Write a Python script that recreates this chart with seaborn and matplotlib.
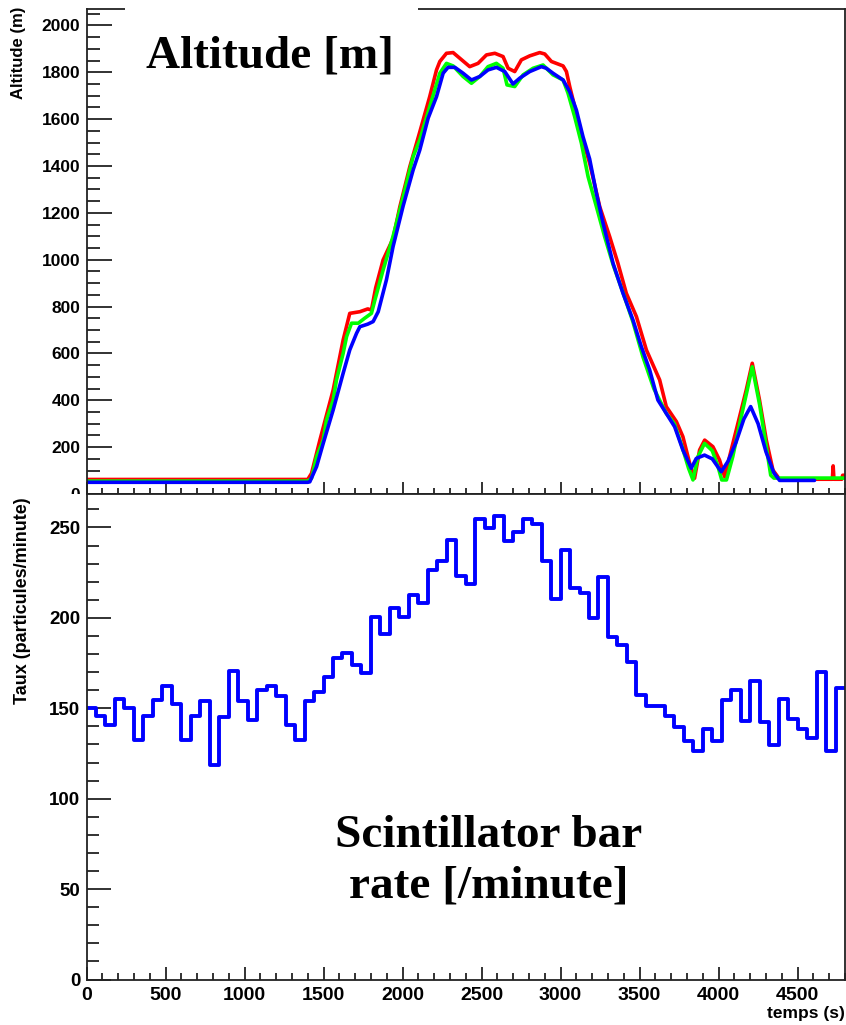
import numpy as np
import pandas as pd
import matplotlib
matplotlib.use("Agg")
import matplotlib.pyplot as plt
from matplotlib.ticker import MultipleLocator
from matplotlib.patches import Rectangle
import seaborn as sns

# ---------------- data ----------------
# Altitude tracks (time in s, altitude in m)
red_t = [0, 1400, 1424, 1477, 1561, 1624, 1666, 1730, 1780, 1803, 1830, 1877, 1940, 1983, 2046,
         2109, 2172, 2215, 2236, 2278, 2320, 2362, 2425, 2478, 2531, 2584, 2636, 2668, 2710, 2752,
         2805, 2868, 2900, 2942, 3016, 3037, 3058, 3100, 3142, 3184, 3248, 3311, 3363, 3416, 3480,
         3543, 3627, 3669, 3733, 3774, 3817, 3848, 3880, 3912, 3964, 4006, 4038, 4080, 4133, 4175,
         4213, 4259, 4302, 4344, 4386, 4720, 4725, 4730, 4780, 4785, 4800]
red_alt = [62, 62, 88, 230, 444, 657, 771, 778, 790, 785, 880, 999, 1090, 1226, 1397,
           1545, 1696, 1810, 1846, 1881, 1884, 1860, 1824, 1838, 1874, 1881, 1867, 1817, 1803, 1853,
           1870, 1884, 1878, 1846, 1827, 1803, 1739, 1625, 1511, 1412, 1226, 1098, 985, 857, 757,
           615, 487, 373, 309, 245, 131, 67, 188, 230, 202, 145, 74, 188, 330, 444,
           558, 401, 230, 102, 63, 63, 120, 63, 63, 80, 80]

green_t = [0, 1400, 1424, 1456, 1498, 1519, 1561, 1582, 1624, 1646, 1677, 1720, 1760, 1803, 1825,
           1877, 1940, 2004, 2067, 2109, 2172, 2236, 2278, 2320, 2383, 2436, 2489, 2541, 2594, 2636,
           2661, 2710, 2763, 2826, 2889, 2952, 3016, 3047, 3089, 3132, 3174, 3227, 3279, 3332, 3400,
           3458, 3521, 3590, 3669, 3720, 3770, 3810, 3838, 3870, 3911, 3960, 3995, 4020, 4050, 4090,
           4140, 4180, 4213, 4260, 4300, 4330, 4350, 4800]
green_alt = [55, 55, 67, 159, 230, 316, 401, 487, 600, 672, 729, 729, 750, 771, 828,
             956, 1100, 1269, 1440, 1511, 1653, 1796, 1838, 1827, 1782, 1753, 1782, 1824, 1838, 1817,
             1746, 1739, 1789, 1817, 1831, 1789, 1767, 1711, 1611, 1497, 1355, 1226, 1098, 980, 850,
             735, 586, 450, 344, 300, 200, 110, 60, 160, 216, 185, 120, 60, 60, 160,
             320, 440, 543, 380, 210, 80, 68, 68]

blue_t = [0, 1400, 1413, 1456, 1498, 1561, 1624, 1666, 1709, 1730, 1780, 1814, 1846, 1898, 1940,
          2004, 2067, 2109, 2162, 2215, 2257, 2288, 2331, 2383, 2436, 2489, 2541, 2594, 2647, 2699,
          2742, 2805, 2879, 2910, 2952, 3016, 3058, 3100, 3142, 3184, 3227, 3269, 3332, 3395, 3458,
          3511, 3564, 3616, 3669, 3722, 3774, 3827, 3859, 3911, 3960, 4017, 4060, 4110, 4160, 4203,
          4250, 4300, 4350, 4386, 4607]
blue_alt = [50, 50, 52, 117, 216, 359, 515, 615, 686, 714, 725, 736, 778, 914, 1056,
            1230, 1383, 1468, 1604, 1696, 1796, 1821, 1821, 1796, 1767, 1782, 1810, 1821, 1803, 1750,
            1775, 1803, 1824, 1817, 1796, 1767, 1717, 1639, 1525, 1430, 1283, 1156, 985, 857, 743,
            629, 529, 401, 344, 287, 188, 110, 152, 166, 150, 95, 140, 220, 320, 373,
            300, 180, 90, 58, 58]

# Scintillator rate, one value per 60 s bin (particules/minute)
bin_width = 60
rate = [150, 145.6, 140.8, 155, 150, 132.6, 146, 154.4, 162.3, 152.4,
        132.6, 146, 154.2, 118.6, 144.9, 170.6, 154.2, 143.6, 159.9, 162.1,
        156.6, 141, 132.6, 154.2, 159.2, 167.1, 177.9, 180.5, 173.9, 169.6,
        200.3, 191.1, 205.2, 200.3, 212.6, 208.2, 226.3, 231.6, 242.8, 223,
        219, 254.6, 249.6, 256.4, 242.3, 247.3, 254.6, 251.7, 231.7, 210.2,
        237.4, 216.6, 213.5, 200.1, 222.7, 189.6, 184.8, 175.7, 157.3, 151.5,
        151.5, 146, 139.9, 131.7, 126.5, 138.6, 131.7, 154.4, 159.9, 142.8,
        165, 142.3, 129.8, 155.1, 143.8, 138.6, 133.5, 169.8, 126.1, 161.4]

# ---------------- figure ----------------
sns.set_theme(style="white")
plt.rcParams["font.family"] = ["Liberation Sans", "DejaVu Sans"]
plt.rcParams["font.weight"] = "bold"
plt.rcParams["text.color"] = "black"
plt.rcParams["axes.labelcolor"] = "black"
plt.rcParams["xtick.color"] = "black"
plt.rcParams["ytick.color"] = "black"

W, H = 846, 1025
fig = plt.figure(figsize=(W / 100, H / 100), dpi=100)
fig.patch.set_facecolor("white")

x_left, x_right = 86.5, 845.0
y_top1, y_mid, y_bot2 = 9.0, 494.0, 979.5
ax1 = fig.add_axes([x_left / W, 1 - y_mid / H, (x_right - x_left) / W, (y_mid - y_top1) / H])
ax2 = fig.add_axes([x_left / W, 1 - y_bot2 / H, (x_right - x_left) / W, (y_bot2 - y_mid) / H])

lw = 2.6
for tt, aa, col in [(red_t, red_alt, "#ff0000"), (green_t, green_alt, "#00ff00"), (blue_t, blue_alt, "#0000ff")]:
    df = pd.DataFrame({"t": tt, "alt": aa})
    sns.lineplot(data=df, x="t", y="alt", ax=ax1, color=col, lw=lw, sort=False,
                 estimator=None, legend=False)

n_bins = len(rate)
centers = np.arange(n_bins) * bin_width + bin_width / 2
dfr = pd.DataFrame({"t": centers, "rate": rate})
sns.histplot(data=dfr, x="t", weights="rate", binwidth=bin_width,
             binrange=(0, n_bins * bin_width), element="step", fill=False,
             color="#0000ff", lw=2.8, ax=ax2, legend=False)

for ax in (ax1, ax2):
    ax.set_xlim(0, 4800)
    ax.set_facecolor("white")
    for s in ax.spines.values():
        s.set_visible(True)
        s.set_color("#222222")
        s.set_linewidth(1.3)
    ax.xaxis.set_major_locator(MultipleLocator(500))
    ax.xaxis.set_minor_locator(MultipleLocator(100))
    ax.tick_params(which="both", direction="in", color="#222222", labelcolor="black", width=1.3,
                   top=False, right=False, left=True, bottom=True)

ax1.set_ylim(0, 2070)
ax1.yaxis.set_major_locator(MultipleLocator(200))
ax1.yaxis.set_minor_locator(MultipleLocator(50))
ax1.tick_params(axis="y", which="major", length=18, labelsize=12.5, pad=4.5)
ax1.tick_params(axis="y", which="minor", length=9.5)
ax1.tick_params(axis="x", which="major", length=9, labelbottom=False)
ax1.tick_params(axis="x", which="minor", length=4.5)
ax1.set_xlabel("")
ax1.set_ylabel("")

ax2.set_ylim(0, 268.5)
ax2.yaxis.set_major_locator(MultipleLocator(50))
ax2.yaxis.set_minor_locator(MultipleLocator(10))
ax2.tick_params(axis="y", which="major", length=17, labelsize=13.5, pad=4.5)
ax2.tick_params(axis="y", which="minor", length=8.5)
ax2.tick_params(axis="x", which="major", length=9.4, labelsize=14, pad=5.5)
ax2.tick_params(axis="x", which="minor", length=5)
ax2.set_xlabel("temps (s)", fontsize=12.5, fontweight="bold", loc="right", labelpad=1, color="black")
ax2.set_ylabel("")

for lab in ax1.get_yticklabels() + ax2.get_yticklabels() + ax2.get_xticklabels():
    lab.set_fontweight("bold")

# axis titles (ROOT style, aligned to the top of each pad)
fig.text(18 / W, 1 - 7 / H, "Altitude (m)", rotation=90, ha="center", va="top",
         fontsize=12, fontweight="bold", color="black")
fig.text(23 / W, 1 - 497 / H, "Taux (particules/minute)", rotation=90, ha="center", va="top",
         fontsize=13, fontweight="bold", color="black")

# white box of the title pave (hides part of the top frame)
fig.add_artist(Rectangle((125 / W, 1 - 22 / H), (418 - 125) / W, 22 / H,
                         transform=fig.transFigure, facecolor="white", edgecolor="none", zorder=5))
# hide the lower part of the top panel's "0" label, as in the original
fig.add_artist(Rectangle((30 / W, 1 - 503 / H), 54 / W, 9 / H,
                         transform=fig.transFigure, facecolor="white", edgecolor="none", zorder=5))

serif = ["Liberation Serif", "DejaVu Serif"]
fig.text(270 / W, 1 - 67 / H, "Altitude [m]", ha="center", va="baseline", fontsize=34,
         fontweight="bold", family=serif, color="black", zorder=6)
fig.text(489 / W, 1 - 847 / H, "Scintillator bar", ha="center", va="baseline", fontsize=34,
         fontweight="bold", family=serif, color="black", zorder=6)
fig.text(489 / W, 1 - 898 / H, "rate [/minute]", ha="center", va="baseline", fontsize=34,
         fontweight="bold", family=serif, color="black", zorder=6)

fig.savefig("out.png", dpi=100, facecolor="white")
